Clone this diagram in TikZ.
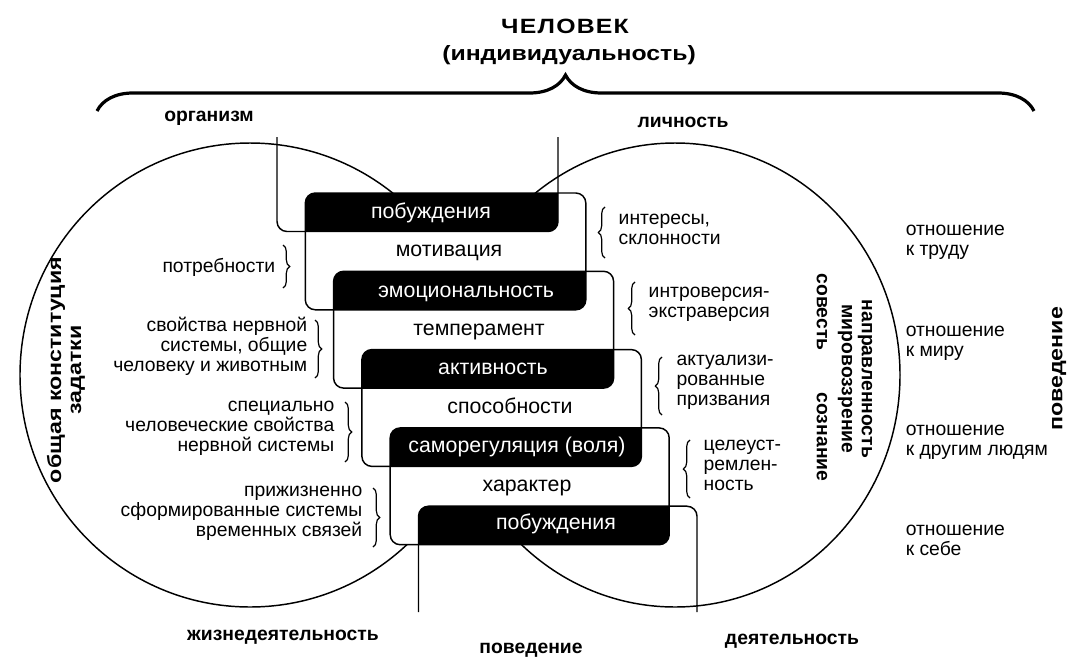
\documentclass[tikz,border=0pt]{standalone}
\usepackage{fontspec}
\setmainfont{Liberation Sans}
\newfontfamily\widefont[FakeStretch=1.2]{Liberation Sans}
\usetikzlibrary{decorations.pathreplacing}

\tikzset{
  txt/.style={font=\fontsize{14.5}{15}\selectfont, inner sep=0pt},
  chaintxt/.style={font=\fontsize{16}{16}\selectfont, inner sep=0pt, text height=10.5pt, text depth=3pt},
  bld/.style={font=\bfseries\fontsize{14.5}{15}\selectfont, inner sep=0pt},
  wbld/.style={font=\widefont\bfseries\fontsize{14.5}{15}\selectfont, inner sep=0pt},
  bartxt/.style={chaintxt, text=white},
  lbrace/.style={decorate, decoration={brace, amplitude=5pt}, line width=0.9pt},
}

\begin{document}
\begin{tikzpicture}[x=0.75pt,y=-0.75pt,line width=1.1pt]
\useasboundingbox (0,0) rectangle (1069,657);

% The two spheres
\draw (250,375) ellipse [x radius=230, y radius=232];
\draw (675,375) ellipse [x radius=225, y radius=232];

% The white boxes
\foreach \i in {1,...,4}
{
	\pgfmathsetmacro\lx{277+28.3*\i}
	\pgfmathsetmacro\rx{558+27.8*\i}
	\pgfmathsetmacro\ty{114.7+78.3*\i}
	\pgfmathsetmacro\by{231.5+78.3*\i}
	\fill[white,rounded corners=7.5pt] (\lx,\ty) rectangle (\rx,\by);
}

% The black overlaps
\foreach \i in {1,...,5}
{
	\pgfmathsetmacro\plx{277+28.3*(\i-1)}
	\pgfmathsetmacro\prx{558+27.8*(\i-1)}
	\pgfmathsetmacro\lx{277+28.3*\i}
	\pgfmathsetmacro\rx{558+27.8*\i}
	\pgfmathsetmacro\ty{114.7+78.3*\i}
	\pgfmathsetmacro\by{231.5+78.3*(\i-1)}
	\begin{scope}
		\clip[rounded corners=7.5pt] (\plx,\ty-40) rectangle (\prx,\by);
		\fill[rounded corners=7.5pt] (\lx,\ty) rectangle (\rx,\by+40);
	\end{scope}
}

% The outlines
\draw[rounded corners=7.5pt] (277,137) -- (277,231.5) -- (558,231.5) -- (558,137);
\foreach \i in {1,...,4}
{
	\pgfmathsetmacro\lx{277+28.3*\i}
	\pgfmathsetmacro\rx{558+27.8*\i}
	\pgfmathsetmacro\ty{114.7+78.3*\i}
	\pgfmathsetmacro\by{231.5+78.3*\i}
	\draw[rounded corners=7.5pt] (\lx,\ty) rectangle (\rx,\by);
}
\draw[rounded corners=7.5pt] (418.5,612) -- (418.5,506.2) -- (697,506.2) -- (697,612);

% The chain
\node[bartxt] (bar1) at (431,213) {побуждения};
\node[chaintxt] (mid1) at (449,251) {мотивация};
\node[bartxt] (bar2) at (466,292) {эмоциональность};
\node[chaintxt] (mid2) at (479,330) {темперамент};
\node[bartxt] (bar3) at (493,369) {активность};
\node[chaintxt] (mid3) at (510,408) {способности};
\node[bartxt] (bar4) at (517,447) {саморегуляция (воля)};
\node[chaintxt] (mid4) at (527,486) {характер};
\node[bartxt] (bar5) at (556,524) {побуждения};

% The title
\node[wbld,font=\widefont\bfseries\fontsize{15.5}{16}\selectfont\addfontfeature{LetterSpace=6}] (man) at (565,26) {ЧЕЛОВЕК};
\node[wbld,font=\widefont\bfseries\fontsize{15.5}{16}\selectfont] (indiv) at (569,55) {(индивидуальность)};
\draw[decorate,decoration={brace,amplitude=27pt},line width=2.4pt] (97,111) -- (1034,111);
\node[bld] (org) at (209,118) {организм};
\node[bld] (pers) at (683,122) {личность};

% The left side
\node[wbld,rotate=90,align=center] (const) at (66,370) {общая конституция\\задатки};
\node[txt,anchor=east,align=right] (need) at (276,267) {потребности};
\draw[lbrace] (283,245) -- (283,288);
\node[txt,anchor=east,align=right] (nerv) at (308,346) {свойства нервной\\системы, общие\\человеку и животным};
\draw[lbrace] (315,320) -- (315,378);
\node[txt,anchor=east,align=right] (spec) at (335,428) {специально\\человеческие свойства\\нервной системы};
\draw[lbrace] (345,402) -- (345,462);
\node[txt,anchor=east,align=right] (life) at (363,513) {прижизненно\\сформированные системы\\временных связей};
\draw[lbrace] (373,488) -- (373,547);

% The right side
\node[txt,anchor=west,align=left] (inter) at (618,229) {интересы,\\склонности};
\draw[lbrace] (605,258) -- (605,207);
\node[txt,anchor=west,align=left] (intro) at (648,304) {интроверсия-\\экстраверсия};
\draw[lbrace] (635,335) -- (635,282);
\node[txt,anchor=west,align=left] (actu) at (676,382) {актуализи-\\рованные\\призвания};
\draw[lbrace] (662,415) -- (662,357);
\node[txt,anchor=west,align=left] (goal) at (703,465) {целеуст-\\ремлен-\\ность};
\draw[lbrace] (690,498) -- (690,440);

\node[bld,rotate=-90,align=center] (dir) at (855,379) {направленность\\мировоззрение};
\node[bld,rotate=-90] (consc) at (822,312) {совесть};
\node[bld,rotate=-90] (aware) at (822,437) {сознание};

\node[txt,anchor=west,align=left] (rel1) at (905,242) {отношение\\к труду};
\node[txt,anchor=west,align=left] (rel2) at (905,343) {отношение\\к миру};
\node[txt,anchor=west,align=left] (rel3) at (905,442) {отношение\\к другим людям};
\node[txt,anchor=west,align=left] (rel4) at (905,540) {отношение\\к себе};
\node[wbld,rotate=90] (beh) at (1059,369) {поведение};

% The bottom
\node[bld] (vital) at (283,637) {жизнедеятельность};
\node[bld] (behav) at (531,650) {поведение};
\node[bld] (activ) at (792,641) {деятельность};

\end{tikzpicture}
\end{document}
